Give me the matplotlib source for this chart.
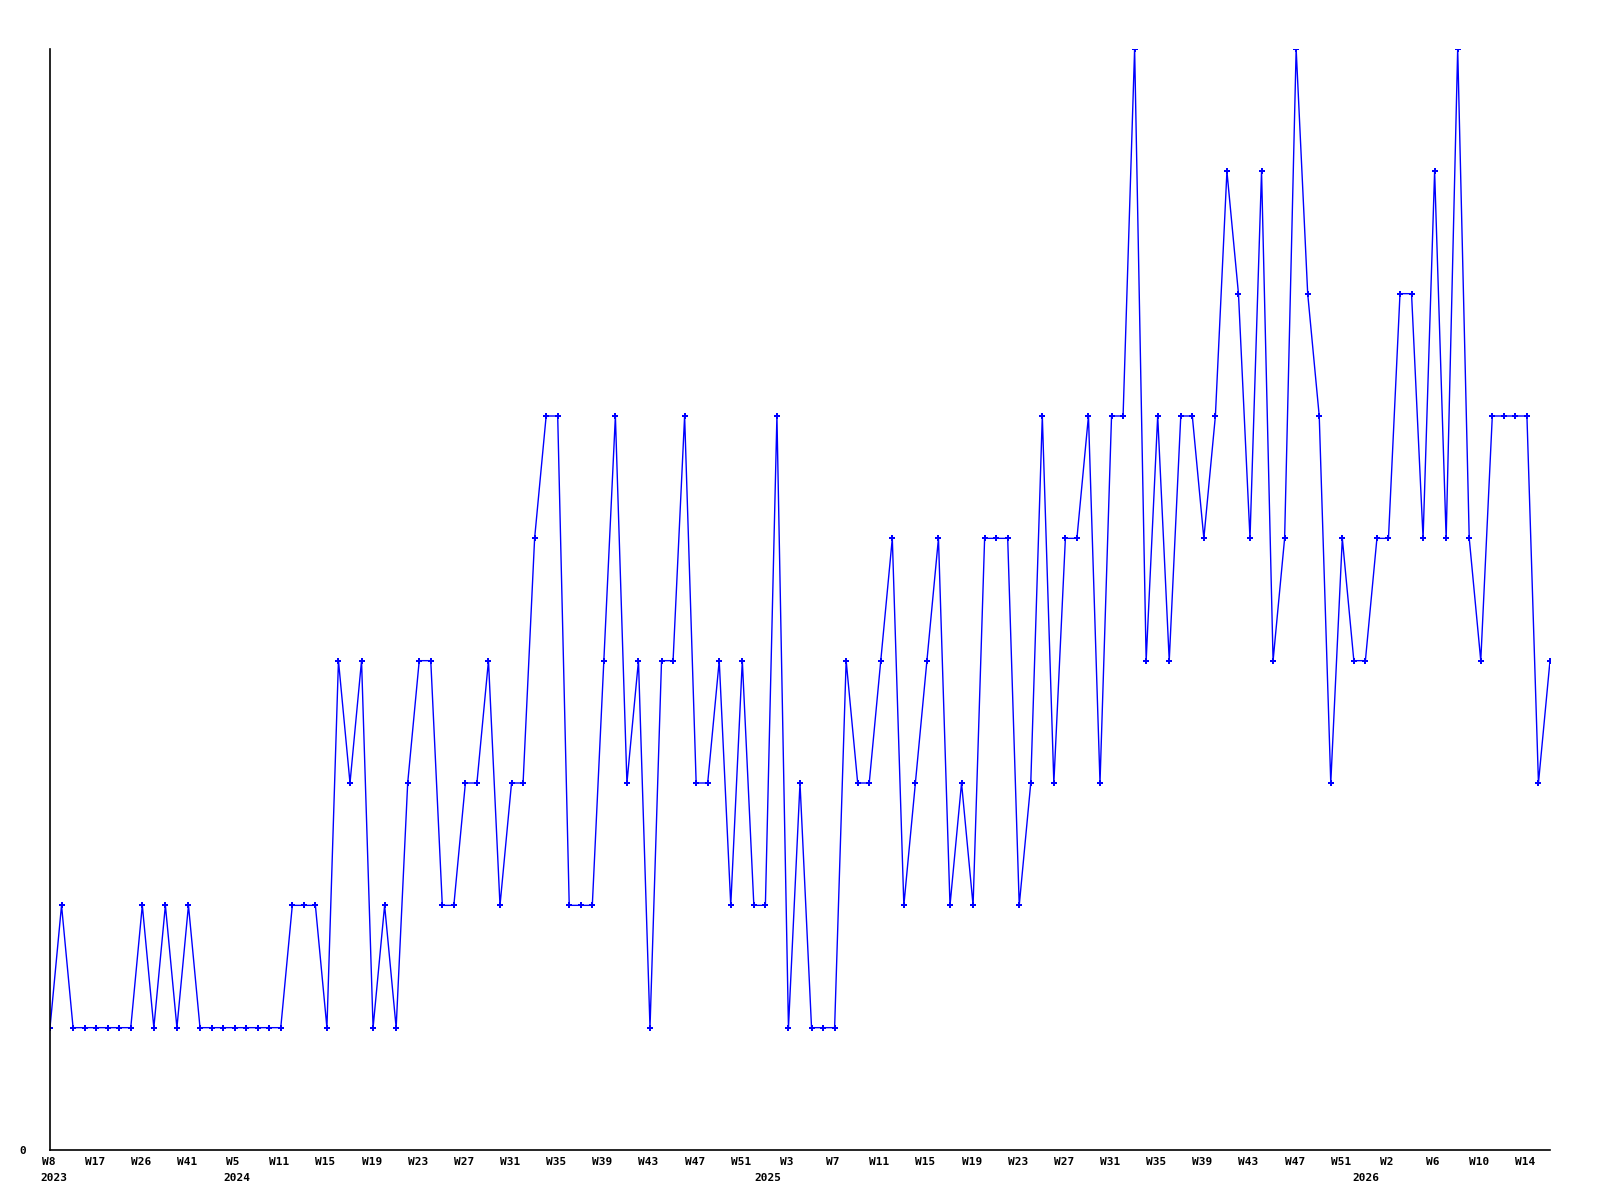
import matplotlib
matplotlib.use("Agg")
import matplotlib.pyplot as plt

# =====================================================
# DATA (one point per listed week)
# =====================================================

values = [
    1, 2, 1, 1, 1, 1, 1, 1, 2, 1, 2, 1, 2, 1, 1, 1, 1, 1, 1, 1,
    1, 2, 2, 2, 1, 4, 3, 4, 1, 2, 1, 3, 4, 4, 2, 2, 3, 3, 4, 2,
    3, 3, 5, 6, 6, 2, 2, 2, 4, 6, 3, 4, 1, 4, 4, 6, 3, 3, 4, 2,
    4, 2, 2, 6, 1, 3, 1, 1, 1, 4, 3, 3, 4, 5, 2, 3, 4, 5, 2, 3,
    2, 5, 5, 5, 2, 3, 6, 3, 5, 5, 6, 3, 6, 6, 9, 4, 6, 4, 6, 6,
    5, 6, 8, 7, 5, 8, 4, 5, 9, 7, 6, 3, 5, 4, 4, 5, 5, 7, 7, 5,
    8, 5, 9, 5, 4, 6, 6, 6, 6, 3, 4,
]

# labelled positions (every 4th point)
tick_idx = list(range(0, 129, 4))
tick_weeks = [
    "W8", "W17", "W26", "W41", "W5", "W11", "W15", "W19", "W23",
    "W27", "W31", "W35", "W39", "W43", "W47", "W51", "W3", "W7",
    "W11", "W15", "W19", "W23", "W27", "W31", "W35", "W39", "W43",
    "W47", "W51", "W2", "W6", "W10", "W14",
]

# year labels sit under the first week of each year
year_idx = [0.3, 16.2, 62.2, 114.0]
year_names = ["2023", "2024", "2025", "2026"]

# =====================================================
# PLOT
# =====================================================

fig = plt.figure(figsize=(16, 12), dpi=100)
ax = fig.add_axes([50 / 1600, 50 / 1200, 1500 / 1600, 1101 / 1200])

x = list(range(len(values)))
ax.plot(x, values, color="#0000ff", linewidth=1.0,
        marker="P", markersize=4.5, markeredgewidth=0)

ax.set_xlim(0, len(values) - 1)
ax.set_ylim(0, 9)

txt = dict(fontsize=8, fontweight="bold", family="DejaVu Sans Mono",
           ha="center", va="center", annotation_clip=False)

# week labels drawn as text so they can sit a bit left of the tick
ax.set_xticks(tick_idx)
ax.set_xticklabels([])
for xi, w in zip(tick_idx, tick_weeks):
    ax.annotate(w, xy=(xi, 0), xycoords=("data", "axes fraction"),
                xytext=(-1, -8.5), textcoords="offset points", **txt)

for xi, name in zip(year_idx, year_names):
    ax.annotate(name, xy=(xi, 0), xycoords=("data", "axes fraction"),
                xytext=(0, -20), textcoords="offset points", **txt)

ax.set_yticks([0])
ax.set_yticklabels(["0"], fontsize=8, fontweight="bold",
                   family="DejaVu Sans Mono")

ax.tick_params(axis="x", length=0)
ax.tick_params(axis="y", length=0, pad=17)

for side in ["top", "right"]:
    ax.spines[side].set_visible(False)
for side in ["left", "bottom"]:
    ax.spines[side].set_color("black")
    ax.spines[side].set_linewidth(1.2)

fig.savefig("out.png", dpi=100)
